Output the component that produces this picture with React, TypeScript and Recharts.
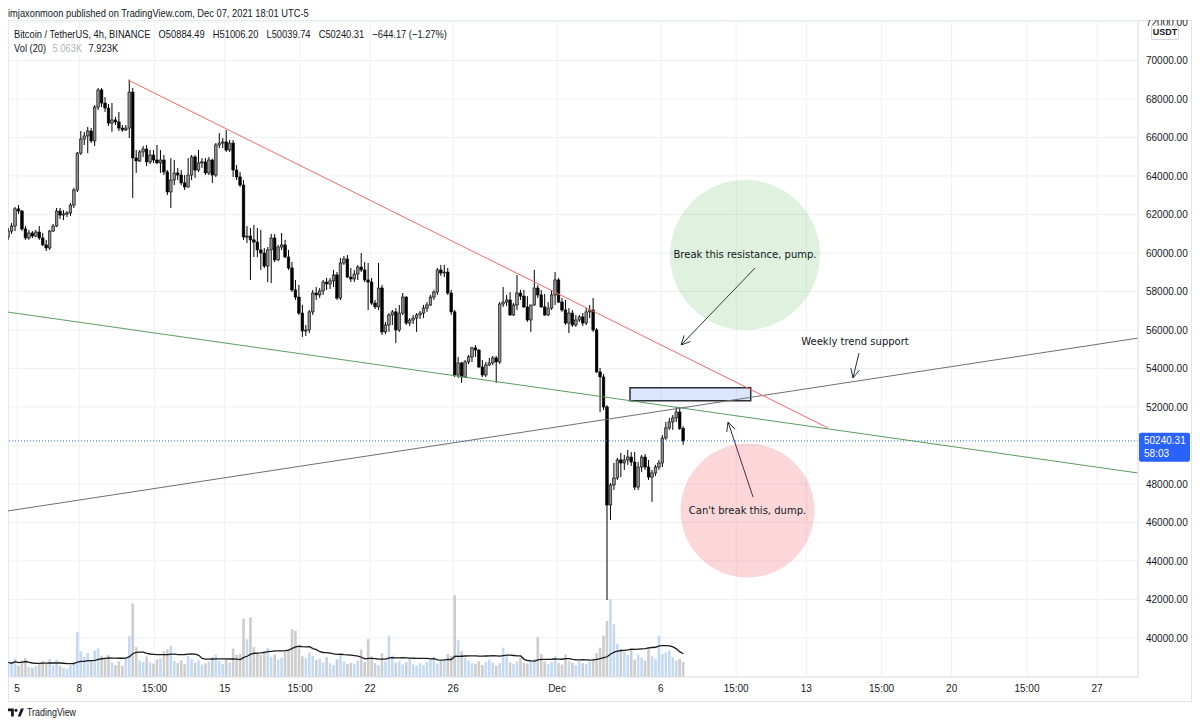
import React from "react";
import {
  Bar,
  CartesianGrid,
  ComposedChart,
  Line,
  ReferenceArea,
  ReferenceDot,
  ReferenceLine,
  XAxis,
  YAxis,
} from "recharts";

// BTC/USDT 4h candles, Nov 4 -> Dec 7 2021 (hours counted from Nov 5 00:00, UTC-5)
const firstHour = -10;

const opens = [
  60830, 61140, 61400, 62290, 62180, 61250, 60780, 61040, 60880, 61090,
  60780, 60420, 60260, 61140, 61400, 62180, 61970, 62030, 62080, 62490,
  63270, 65190, 65920, 66080, 66340, 65820, 67580, 68470, 67790, 67530,
  66750, 66910, 66810, 66490, 66390, 66490, 68360, 64940, 64780, 65250,
  65400, 64730, 65090, 64830, 64680, 64830, 64210, 63170, 63790, 64160,
  64050, 63640, 63430, 64050, 64990, 64310, 64680, 64730, 64160, 64830,
  64050, 65610, 65710, 65770, 65350, 65710, 64310, 63950, 63530, 60830,
  60880, 60680, 60570, 60160, 60000, 59320, 60160, 60780, 59640, 60310,
  60420, 59790, 59220, 58080, 57710, 56880, 55950, 56000, 56940, 57920,
  57820, 58030, 58490, 58390, 58550, 58860, 57660, 59480, 59690, 58750,
  58650, 58910, 59270, 59120, 58600, 58490, 57400, 57200, 58180, 55900,
  56260, 56780, 56940, 56000, 56880, 57710, 56360, 56520, 56620, 56780,
  56880, 57140, 57300, 57710, 57970, 59120, 58960, 59010, 57920, 56940,
  53660, 54290, 53560, 54340, 54600, 55070, 54960, 54080, 53660, 54180,
  54290, 54550, 54340, 57350, 57450, 57560, 56780, 57300, 57920, 57760,
  57200, 56520, 57300, 58180, 57820, 57200, 56780, 57140, 57820, 58600,
  57450, 57040, 56360, 56880, 56260, 56520, 56680, 56360, 56940, 57040,
  56000, 53820, 53560, 52000, 46910, 47950, 48310, 49250, 49090, 49250,
  49400, 49140, 47840, 48880, 49400, 48880, 48360, 48570, 48880, 49090,
  50390, 50910, 51220, 51430, 51740, 50884.49,
];

const highs = [
  61300, 61560, 62390, 62490, 62230, 61400, 61200, 61140, 61200, 61400,
  61040, 60680, 61200, 61510, 62340, 62340, 62230, 62180, 62600, 63380,
  65250, 66340, 66290, 66550, 66490, 67690, 68570, 68570, 68100, 67740,
  67790, 67070, 67330, 66650, 66650, 69000, 68570, 65350, 65350, 65560,
  65610, 65350, 65350, 65610, 65350, 65090, 64310, 64930, 64830, 64420,
  64310, 64050, 64930, 65090, 65090, 65350, 64930, 64930, 64990, 64900,
  65710, 66230, 65970, 66390, 65870, 65870, 64570, 64210, 63790, 61400,
  61300, 61460, 61300, 61200, 60260, 60310, 60990, 60990, 60420, 61040,
  60680, 60160, 59530, 58600, 58340, 57300, 56260, 57040, 58080, 58230,
  58180, 58600, 58700, 58700, 59120, 59010, 59740, 59840, 59900, 59220,
  59120, 59370, 60000, 59530, 59480, 58700, 57560, 59480, 58340, 56420,
  56880, 57040, 57140, 57300, 57920, 57760, 56620, 56780, 56880, 56990,
  57300, 57450, 57820, 58080, 59220, 59380, 59380, 59220, 58080, 57040,
  54600, 54340, 54440, 54700, 55120, 55220, 55000, 54440, 54340, 54550,
  54650, 54650, 57450, 58230, 57820, 57970, 57400, 58860, 58080, 58080,
  57760, 57300, 59120, 58340, 58080, 57870, 57450, 58080, 59010, 58700,
  57660, 57560, 57140, 57040, 56780, 56780, 56880, 57140, 57300, 57660,
  56100, 54030, 53720, 52100, 48050, 49090, 49350, 49610, 49510, 49770,
  49660, 49660, 49140, 49510, 49560, 49250, 48730, 48990, 49250, 50540,
  51220, 51430, 51580, 52000, 52000, 51006.2,
];

const lows = [
  60680, 60990, 61140, 62030, 61140, 60680, 60680, 60780, 60830, 60680,
  60360, 60100, 60160, 61090, 61350, 61770, 61710, 61870, 61920, 62340,
  63170, 65090, 65610, 65190, 65710, 65560, 67430, 67580, 67330, 66600,
  66290, 66650, 66340, 66290, 66340, 65970, 62860, 64160, 64730, 64990,
  64520, 64620, 64680, 64620, 64160, 64050, 63010, 62340, 63530, 63790,
  63530, 63270, 63380, 63790, 63900, 64210, 64420, 64050, 64050, 63640,
  63950, 65450, 65450, 65250, 65250, 63950, 63790, 63430, 60680, 60520,
  58600, 59790, 59790, 59120, 59220, 58490, 58440, 59530, 59580, 60160,
  59740, 59120, 57970, 57560, 56780, 55640, 55690, 55840, 56780, 57560,
  57660, 57820, 58080, 58130, 58230, 57560, 57560, 59380, 58700, 58490,
  58490, 58600, 59010, 58490, 57040, 57300, 57090, 57040, 55740, 55790,
  55900, 56260, 55320, 55900, 56780, 56260, 56210, 56310, 55900, 56570,
  56620, 56940, 57250, 57560, 57820, 58810, 58750, 57820, 56780, 53560,
  53510, 53250, 53510, 54230, 54340, 54600, 54030, 53560, 53560, 54130,
  54180, 53250, 54230, 57200, 57250, 56730, 56730, 57040, 57560, 57140,
  56420, 55900, 57250, 57660, 57140, 56730, 56730, 57040, 57300, 57400,
  56940, 56260, 55840, 56160, 56160, 56420, 56210, 56260, 56620, 55900,
  53770, 51740, 51840, 41970, 46130, 47690, 48210, 48360, 48730, 48990,
  48940, 47690, 47690, 48620, 48730, 48210, 47070, 48410, 48730, 48880,
  50290, 50810, 50810, 51220, 50810, 50039.74,
];

const closes = [
  61140, 61400, 62290, 62180, 61250, 60780, 61040, 60880, 61090, 60780,
  60420, 60260, 61140, 61400, 62180, 61970, 62030, 62080, 62490, 63270,
  65190, 65920, 66080, 66340, 65820, 67580, 68470, 67790, 67530, 66750,
  66910, 66810, 66490, 66390, 66490, 68360, 64940, 64780, 65250, 65400,
  64730, 65090, 64830, 64680, 64830, 64210, 63170, 63790, 64160, 64050,
  63640, 63430, 64050, 64990, 64310, 64680, 64730, 64160, 64830, 64050,
  65610, 65710, 65770, 65350, 65710, 64310, 63950, 63530, 60830, 60880,
  60680, 60570, 60160, 60000, 59320, 60160, 60780, 59640, 60310, 60420,
  59790, 59220, 58080, 57710, 56880, 55950, 56000, 56940, 57920, 57820,
  58030, 58490, 58390, 58550, 58860, 57660, 59480, 59690, 58750, 58650,
  58910, 59270, 59120, 58600, 58490, 57400, 57200, 58180, 55900, 56260,
  56780, 56940, 56000, 56880, 57710, 56360, 56520, 56620, 56780, 56880,
  57140, 57300, 57710, 57970, 59120, 58960, 59010, 57920, 56940, 53660,
  54290, 53560, 54340, 54600, 55070, 54960, 54080, 53660, 54180, 54290,
  54550, 54340, 57350, 57450, 57560, 56780, 57300, 57920, 57760, 57200,
  56520, 57300, 58180, 57820, 57200, 56780, 57140, 57820, 58600, 57450,
  57040, 56360, 56880, 56260, 56520, 56680, 56360, 56940, 57040, 56000,
  53820, 53560, 52000, 46910, 47950, 48310, 49250, 49090, 49250, 49400,
  49140, 47840, 48880, 49400, 48880, 48360, 48570, 48880, 49090, 50390,
  50910, 51220, 51430, 51740, 50884.49, 50240.31,
];

// volume in thousands of BTC
const volumes = [
  3.2, 2.8, 4.0, 2.5, 3.6, 4.1, 2.2, 2.0, 2.4, 3.0,
  3.5, 2.8, 3.9, 2.6, 3.8, 2.4, 2.0, 1.8, 2.6, 3.4,
  9.8, 5.6, 4.4, 5.2, 3.6, 5.8, 6.2, 4.6, 3.9, 4.8,
  3.2, 2.6, 3.4, 2.5, 4.0, 8.9, 16.0, 6.5, 3.6, 3.3,
  4.5, 3.2, 2.9, 3.8, 4.1, 5.6, 6.0, 6.8, 3.5, 3.0,
  3.6, 2.8, 4.6, 3.9, 3.1, 3.6, 2.7, 3.0, 3.4, 4.3,
  4.9, 3.5, 2.8, 4.0, 3.2, 6.2, 4.8, 5.0, 12.7, 8.2,
  13.0, 6.5, 5.2, 4.8, 5.6, 6.3, 4.4, 4.9, 3.8, 4.2,
  5.6, 6.0, 10.4, 10.0, 6.2, 4.5, 4.1, 5.3, 4.6, 3.7,
  3.9, 3.2, 4.4, 3.0, 2.6, 3.8, 4.9, 3.4, 2.8, 3.1,
  2.9, 3.6, 6.0, 3.3, 8.2, 4.5, 3.0, 2.6, 5.2, 3.4,
  9.0, 4.7, 3.1, 3.5, 2.7, 3.2, 4.1, 2.8, 2.5, 3.0,
  2.6, 3.3, 3.8, 4.4, 2.9, 3.5, 4.0, 5.0, 4.6, 17.8,
  8.0, 5.6, 4.2, 3.6, 3.0, 2.9, 3.4, 2.6, 3.3, 3.8,
  3.1, 2.5, 3.0, 6.4, 4.8, 3.2, 2.8, 3.4, 4.2, 3.1,
  2.9, 3.6, 3.9, 8.7, 5.0, 3.4, 2.8, 3.3, 4.5, 3.0,
  2.7, 4.9, 3.5, 3.1, 2.6, 3.4, 3.0, 2.8, 3.3, 4.0,
  5.2, 6.4, 9.0, 12.2, 17.0, 11.5, 7.2, 6.0, 5.5, 4.8,
  6.0, 3.8, 4.9, 4.2, 3.6, 6.5, 4.5, 3.9, 9.0, 5.0,
  5.4, 5.8, 4.3, 3.6, 3.9, 3.3, 7.923,
];

const priceTicks = [
  40000, 42000, 44000, 46000, 48000, 50000, 52000, 54000, 56000, 58000,
  60000, 62000, 64000, 66000, 68000, 70000, 72000,
];
const xTickHours = [0, 72, 159, 240, 327, 408, 504, 624, 744, 831, 912, 999, 1080, 1167, 1248];
const xTickLabels = ["5", "8", "15:00", "15", "15:00", "22", "26", "Dec", "6", "15:00", "13", "15:00", "20", "15:00", "27"];

// drawings (hour, price)
const resistanceLine = [{x: 128.3, y: 68990}, {x: 937.1, y: 50910}];
const channelLine = [{x: -10.4, y: 56930}, {x: 1295.3, y: 48570}];
const weeklyLine = [{x: -10.4, y: 46600}, {x: 1295.3, y: 55580}];
const zone = {x1: 708.3, x2: 847.8, y1: 52330, y2: 53000};
const pumpArrow = [{x: 852.8, y: 59220}, {x: 767.3, y: 55220}];
const dumpArrow = [{x: 850.5, y: 47320}, {x: 821.6, y: 51220}];
const weeklyArrow = [{x: 972.9, y: 54800}, {x: 966.0, y: 53510}];
const pumpCircle = {x: 841.2, y: 59900};
const dumpCircle = {x: 844.1, y: 46620};
const weeklyText = {x: 968.3, y: 55430};
const lastPrice = 50240.31;

const X_DOMAIN: [number, number] = [-10.4, 1295.3];
const UI_FONT = "'Liberation Sans', Arial, sans-serif";
const NOTE_FONT = "'DejaVu Sans', Verdana, sans-serif";
const TEXT = "#131722";

const rows = closes.map((c, i) => {
  const from = Math.max(0, i - 19);
  const win = volumes.slice(from, i + 1);
  return {
    t: firstHour + 4 * i,
    open: opens[i],
    high: highs[i],
    low: lows[i],
    close: c,
    range: [lows[i], highs[i]],
    up: c >= opens[i],
    vol: volumes[i],
    volMa: win.reduce((a, b) => a + b, 0) / win.length,
  };
});

function Candle(props: any) {
  const {x, y, width, height, payload} = props;
  if (payload == null || x == null) return null;
  const {open, close, high, low} = payload;
  const top = Math.min(y, y + height);
  const bot = Math.max(y, y + height);
  const toY = (p: number) => top + ((high - p) / (high - low)) * (bot - top);
  const cx = x + width / 2;
  const yo = toY(open);
  const yc = toY(close);
  const up = close >= open;
  return (
    <g>
      <line x1={cx} x2={cx} y1={top} y2={bot} stroke="#000" strokeWidth={1} />
      <rect
        x={cx - 1.3}
        y={Math.min(yo, yc)}
        width={2.6}
        height={Math.max(1, Math.abs(yc - yo))}
        fill={up ? "#8e8e8e" : "#000"}
        stroke="#000"
        strokeWidth={0.6}
      />
    </g>
  );
}

function VolumeBar(props: any) {
  const {x, y, width, height, payload} = props;
  if (payload == null || x == null) return null;
  return (
    <rect
      x={x + width / 2 - 1.3}
      y={y}
      width={2.6}
      height={Math.max(0, height)}
      fill={payload.up ? "#c4daf2" : "#cdcdcd"}
    />
  );
}

function arrowShape(p: any) {
  const {x1, y1, x2, y2} = p;
  const a = Math.atan2(y2 - y1, x2 - x1);
  const len = 10;
  const hx1 = x2 - len * Math.cos(a - 0.45);
  const hy1 = y2 - len * Math.sin(a - 0.45);
  const hx2 = x2 - len * Math.cos(a + 0.45);
  const hy2 = y2 - len * Math.sin(a + 0.45);
  return (
    <g>
      <line x1={x1} y1={y1} x2={x2} y2={y2} stroke="#2a2e39" strokeWidth={1} />
      <polyline
        points={`${hx1},${hy1} ${x2},${y2} ${hx2},${hy2}`}
        fill="none"
        stroke="#2a2e39"
        strokeWidth={1}
      />
    </g>
  );
}

function PriceTag(props: any) {
  const vb = props.viewBox;
  if (!vb) return null;
  const x = vb.x + vb.width + 1;
  const y = vb.y;
  return (
    <g fontFamily={UI_FONT} fontSize={10} fill="#fff">
      <rect x={x} y={y - 8} width={51} height={29} fill="#2962ff" rx={2} />
      <text x={x + 5} y={y + 3}>{lastPrice.toFixed(2)}</text>
      <text x={x + 5} y={y + 16}>58:03</text>
    </g>
  );
}

const noteLabel = (value: string) => ({
  value,
  position: "center" as const,
  fill: TEXT,
  fontSize: 10,
  fontFamily: NOTE_FONT,
});

// the 50000 label sits under the last-price tag in the original
const priceLabel = (v: number) => (Math.abs(v - lastPrice) < 700 ? "" : v.toFixed(2));

export default function App() {
  const tickStyle = {fontSize: 10, fill: TEXT, fontFamily: UI_FONT};
  const condensed = {transform: "scaleX(0.81)", transformOrigin: "left top"};
  return (
    <div
      style={{
        position: "absolute",
        left: 0,
        top: 0,
        width: 1200,
        height: 727,
        overflow: "hidden",
        background: "#fff",
        fontFamily: UI_FONT,
        color: TEXT,
      }}
    >
      <div style={{position: "absolute", left: 8, top: 6, fontSize: 11.5, lineHeight: "14px", whiteSpace: "nowrap", ...condensed}}>
        imjaxonmoon published on TradingView.com, Dec 07, 2021 18:01 UTC-5
      </div>

      <div style={{position: "absolute", left: 8, top: 20, width: 1182, height: 680, border: "1px solid #e0e3eb"}} />

      <div style={{position: "absolute", left: 8, top: 20}}>
        <ComposedChart width={1184} height={682} data={rows} margin={{top: 0, right: 0, bottom: 0, left: 0}}>
          <CartesianGrid xAxisId="main" yAxisId="price" stroke="#eef0f4" />
          <XAxis
            xAxisId="main"
            dataKey="t"
            type="number"
            domain={X_DOMAIN}
            allowDataOverflow
            ticks={xTickHours}
            interval={0}
            tickFormatter={(v: number) => xTickLabels[xTickHours.indexOf(v)] ?? ""}
            tick={tickStyle}
            tickLine={false}
            axisLine={{stroke: "#e0e3eb"}}
            height={25}
          />
          <XAxis xAxisId="vol" dataKey="t" type="number" domain={X_DOMAIN} allowDataOverflow hide />
          <YAxis
            yAxisId="price"
            orientation="right"
            width={54}
            domain={[37973, 72104]}
            allowDataOverflow
            ticks={priceTicks}
            interval={0}
            tickFormatter={priceLabel}
            tick={tickStyle}
            tickLine={false}
            tickMargin={2}
            axisLine={{stroke: "#e0e3eb"}}
          />
          <YAxis yAxisId="vol" domain={[0, 143]} hide />

          <ReferenceDot
            xAxisId="main"
            yAxisId="price"
            x={pumpCircle.x}
            y={pumpCircle.y}
            r={75}
            fill="rgba(76, 175, 80, 0.18)"
            stroke="none"
            label={noteLabel("Break this resistance, pump.")}
          />
          <ReferenceDot
            xAxisId="main"
            yAxisId="price"
            x={dumpCircle.x}
            y={dumpCircle.y}
            r={67}
            fill="rgba(242, 54, 69, 0.2)"
            stroke="none"
            label={noteLabel("Can't break this, dump.")}
          />

          <Bar
            xAxisId="vol"
            yAxisId="vol"
            dataKey="vol"
            barSize={3}
            shape={VolumeBar}
            isAnimationActive={false}
          />
          <Line
            xAxisId="vol"
            yAxisId="vol"
            dataKey="volMa"
            type="linear"
            stroke="#1b1b1b"
            strokeWidth={1.3}
            dot={false}
            activeDot={false}
            isAnimationActive={false}
          />

          <ReferenceLine
            xAxisId="main"
            yAxisId="price"
            y={lastPrice}
            stroke="#2962ff"
            strokeDasharray="1 2"
            strokeWidth={1}
            label={<PriceTag />}
          />

          <Bar
            xAxisId="main"
            yAxisId="price"
            dataKey="range"
            barSize={3}
            shape={Candle}
            isAnimationActive={false}
          />

          <ReferenceArea
            xAxisId="main"
            yAxisId="price"
            x1={zone.x1}
            x2={zone.x2}
            y1={zone.y1}
            y2={zone.y2}
            fill="rgba(41, 98, 255, 0.16)"
            fillOpacity={1}
            stroke="#2a2e39"
            strokeWidth={1.5}
          />
          <ReferenceLine xAxisId="main" yAxisId="price" segment={channelLine} stroke="#5a9e5d" strokeWidth={1} ifOverflow="visible" />
          <ReferenceLine xAxisId="main" yAxisId="price" segment={weeklyLine} stroke="#6f6f6f" strokeWidth={1} ifOverflow="visible" />
          <ReferenceLine xAxisId="main" yAxisId="price" segment={resistanceLine} stroke="#ef6b66" strokeWidth={1} ifOverflow="visible" />
          <ReferenceLine xAxisId="main" yAxisId="price" segment={pumpArrow} shape={arrowShape} ifOverflow="visible" />
          <ReferenceLine xAxisId="main" yAxisId="price" segment={dumpArrow} shape={arrowShape} ifOverflow="visible" />
          <ReferenceLine xAxisId="main" yAxisId="price" segment={weeklyArrow} shape={arrowShape} ifOverflow="visible" />
          <ReferenceDot
            xAxisId="main"
            yAxisId="price"
            x={weeklyText.x}
            y={weeklyText.y}
            r={1}
            fill="none"
            stroke="none"
            label={noteLabel("Weekly trend support")}
          />
        </ComposedChart>
      </div>

      <div style={{position: "absolute", left: 14, top: 27, fontSize: 11.5, lineHeight: "14px", whiteSpace: "nowrap", ...condensed}}>
        <span>Bitcoin / TetherUS, 4h, BINANCE</span>
        <span style={{marginLeft: 10}}>O50884.49</span>
        <span style={{marginLeft: 10}}>H51006.20</span>
        <span style={{marginLeft: 10}}>L50039.74</span>
        <span style={{marginLeft: 10}}>C50240.31</span>
        <span style={{marginLeft: 10}}>−644.17 (−1.27%)</span>
      </div>
      <div style={{position: "absolute", left: 14, top: 41, fontSize: 11.5, lineHeight: "14px", whiteSpace: "nowrap", ...condensed}}>
        <span>Vol (20)</span>
        <span style={{marginLeft: 8, color: "#b2b5be"}}>5.063K</span>
        <span style={{marginLeft: 8}}>7.923K</span>
      </div>

      <div
        style={{
          position: "absolute",
          left: 1151,
          top: 25,
          width: 26,
          height: 13,
          border: "1px solid #d1d4dc",
          borderRadius: 2,
          background: "#fff",
          fontSize: 9,
          lineHeight: "13px",
          textAlign: "center",
          fontWeight: 600,
        }}
      >
        USDT
      </div>

      <div style={{position: "absolute", left: 8, top: 706, display: "flex", alignItems: "center", fontSize: 11}}>
        <svg width={16} height={9} viewBox="0 0 36 20" style={{marginRight: 3}}>
          <path d="M0 1h13v18H7V7H0z" fill={TEXT} />
          <circle cx={18} cy={5} r={3.5} fill={TEXT} />
          <path d="M22 19l7-18h7l-8 18z" fill={TEXT} />
        </svg>
        <span style={{display: "inline-block", ...condensed}}>TradingView</span>
      </div>
    </div>
  );
}
